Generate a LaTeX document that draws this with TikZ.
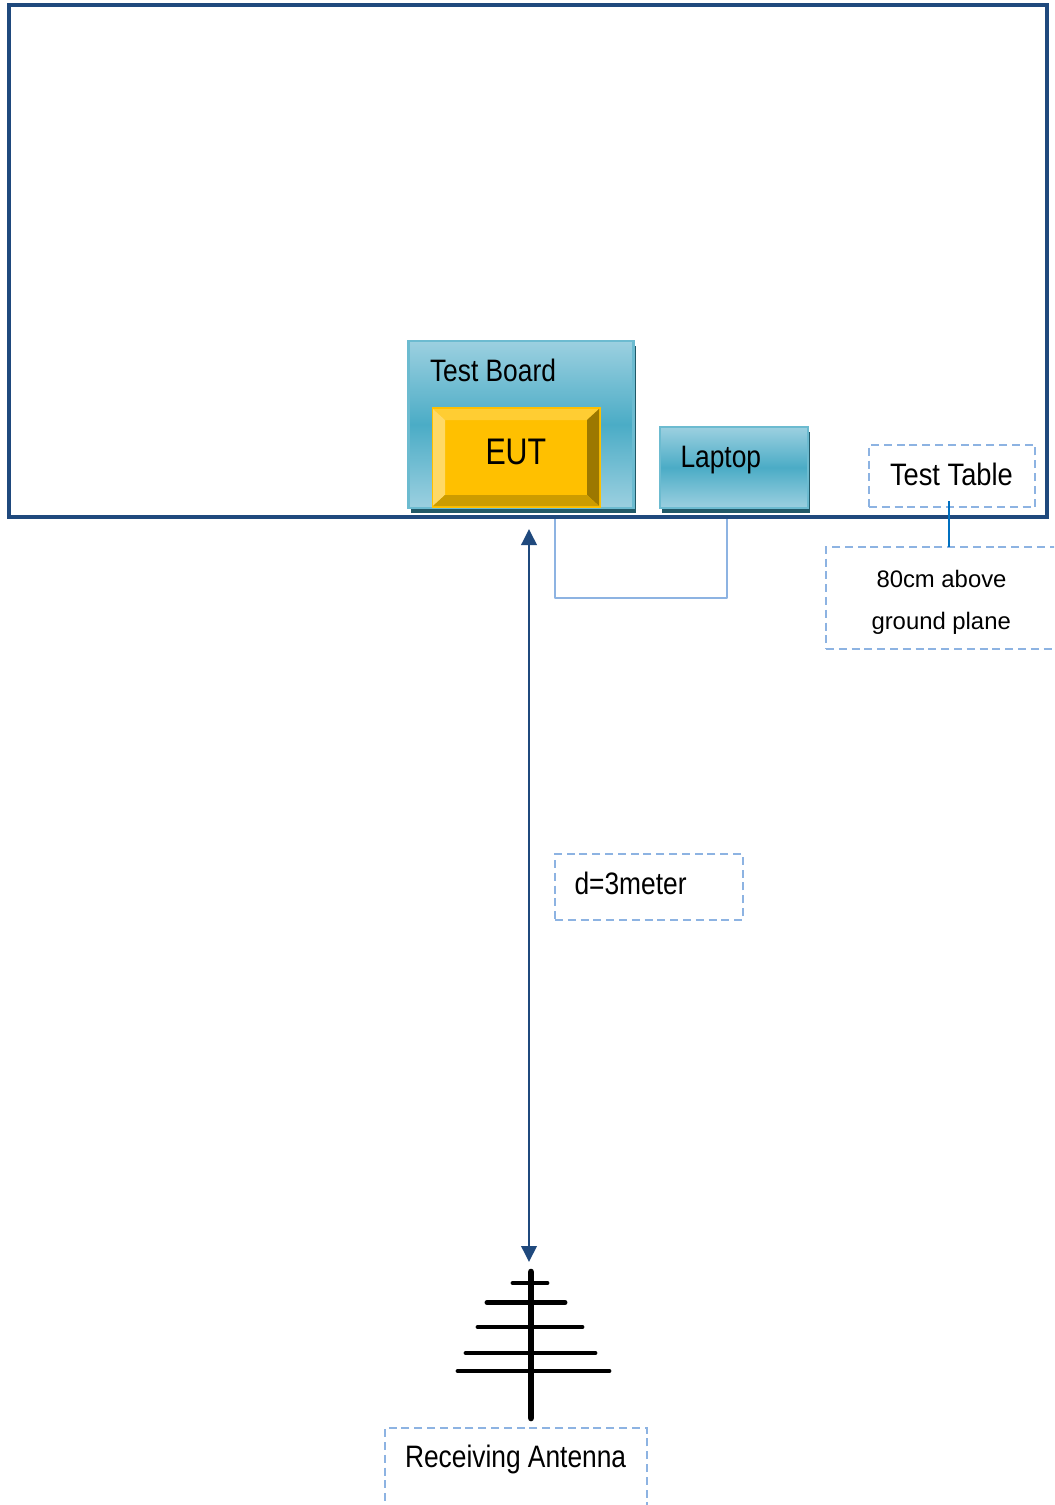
\documentclass[tikz,border=0pt]{standalone}
\usepackage{fontspec}
\setmainfont{Liberation Sans}
\newfontfamily\narrowfont[FakeStretch=0.85]{Liberation Sans}
\newfontfamily\widerfont[FakeStretch=0.88]{Liberation Sans}
\newfontfamily\eutfont[FakeStretch=0.82]{Liberation Sans}
\usetikzlibrary{arrows.meta}
\definecolor{navy}{HTML}{1F497D}
\definecolor{dashblue}{HTML}{8DB3E2}
\definecolor{linkblue}{HTML}{0070C0}
\definecolor{tealedge}{HTML}{6CBBD0}
\definecolor{tealshadow}{HTML}{215968}
\definecolor{teallight}{HTML}{9CD0E0}
\definecolor{tealmid}{HTML}{4BACC6}
\definecolor{gold}{HTML}{FFC000}
\tikzset{
  areabox/.style={inner sep=0pt,outer sep=0pt},
  tablebox/.style={areabox,draw=navy,line width=2.7pt},
  notebox/.style={areabox,draw=dashblue,line width=1.5pt,dash pattern=on 6pt off 3.6pt},
  tealbox/.style={areabox,draw=tealedge,line width=2pt,top color=teallight,bottom color=teallight,middle color=tealmid},
  shadowbox/.style={areabox,fill=tealshadow},
  eutbox/.style={areabox,fill=gold,draw=gold,line width=1.5pt},
  bigtext/.style={inner sep=0pt,outer sep=0pt,anchor=base west,font=\narrowfont\fontsize{23.25}{28}\selectfont},
  tabletext/.style={inner sep=0pt,outer sep=0pt,anchor=base west,font=\widerfont\fontsize{23.25}{28}\selectfont},
  euttext/.style={inner sep=0pt,outer sep=0pt,anchor=base west,font=\eutfont\fontsize{27.75}{32}\selectfont},
  smalltext/.style={inner sep=0pt,outer sep=0pt,anchor=base west,font=\fontsize{17.9}{22}\selectfont},
  cable/.style={draw=dashblue,line width=2pt,line join=round},
  leader/.style={draw=linkblue,line width=1.6pt},
  distarrow/.style={draw=navy,line width=1.9pt,{Triangle[length=12pt,width=11.5pt]}-{Triangle[length=12pt,width=11.5pt]}},
  mast/.style={line width=5pt,line cap=round,black},
  element/.style={line width=3.7pt,line cap=round,black}
}
% \areanode{name}{style}{x1}{y1}{x2}{y2}: rectangle node between two pixel corners
\newcommand{\areanode}[6]{%
  \pgfmathsetmacro{\areaw}{(#5-#3)*0.75}%
  \pgfmathsetmacro{\areah}{(#6-#4)*0.75}%
  \node[#2,minimum width=\areaw pt,minimum height=\areah pt] (#1) at ({(#3+#5)/2},{(#4+#6)/2}) {};%
}
\begin{document}
\begin{tikzpicture}[x=0.75pt,y=-0.75pt]
\useasboundingbox (0,0) rectangle (1054,1505);
\clip (0,0) rectangle (1054,1505);
\fill[white] (0,0) rectangle (1054,1505);

% cable under the table frame
\coordinate (cableA) at (555,517);
\coordinate (cableB) at (727,517);
\draw[cable] (cableA) -- (555,598) -- (727,598) -- (cableB);

% test table frame
\areanode{table}{tablebox}{9}{5}{1047}{517}

% test board
\areanode{boardshadow}{shadowbox}{411}{346}{636}{513}
\areanode{board}{tealbox}{408.5}{341}{633.5}{508}
\node[bigtext] (boardlabel) at (430,381) {Test Board};

% EUT with bevel
\areanode{eut}{eutbox}{432.5}{408}{599.5}{507}
\fill[color={rgb,255:red,255;green,205;blue,51}] (433,409) -- (599,409) -- (587,420) -- (445,420) -- cycle;
\fill[color={rgb,255:red,255;green,217;blue,102}] (433,409) -- (445,420) -- (445,495) -- (433,506) -- cycle;
\fill[color={rgb,255:red,156;green,120;blue,0}] (599,409) -- (587,420) -- (587,495) -- (599,506) -- cycle;
\fill[color={rgb,255:red,204;green,156;blue,0}] (433,506) -- (445,495) -- (587,495) -- (599,506) -- cycle;
\node[euttext] (eutlabel) at (485.5,464) {EUT};

% laptop
\areanode{laptopshadow}{shadowbox}{662}{432}{810}{513}
\areanode{laptop}{tealbox}{660}{427}{808}{508}
\node[bigtext] (laptoplabel) at (680.5,467) {Laptop};

% notes
\areanode{tablenote}{notebox}{869}{445}{1035}{507}
\node[tabletext] (tablelabel) at (890,485) {Test Table};
\areanode{heightnote}{notebox}{826}{547}{1070}{649}
\node[smalltext] (heightA) at (876.5,587) {80cm above};
\node[smalltext] (heightB) at (871.5,629) {ground plane};
\coordinate (leaderTop) at (949,501);
\coordinate (leaderEnd) at (949,547);
\draw[leader] (leaderTop) -- (leaderEnd);

\areanode{distnote}{notebox}{555}{854}{743}{920}
\node[bigtext] (distlabel) at (574.5,894) {d=3meter};

% distance arrow
\coordinate (arrowTop) at (529,529);
\coordinate (arrowEnd) at (529,1262);
\draw[distarrow] (arrowTop) -- (arrowEnd);

% antenna
\draw[mast] (531,1272) -- (531,1418);
\draw[element] (513,1283) -- (547,1283);
\draw[element] (487,1302.5) -- (565,1302.5);
\draw[element] (478,1327) -- (582,1327);
\draw[element] (466,1353) -- (595,1353);
\draw[element] (458,1371) -- (609,1371);

\areanode{antennanote}{notebox}{385}{1428}{647}{1530}
\node[bigtext] (antennalabel) at (405,1467) {Receiving Antenna};
\end{tikzpicture}
\end{document}
